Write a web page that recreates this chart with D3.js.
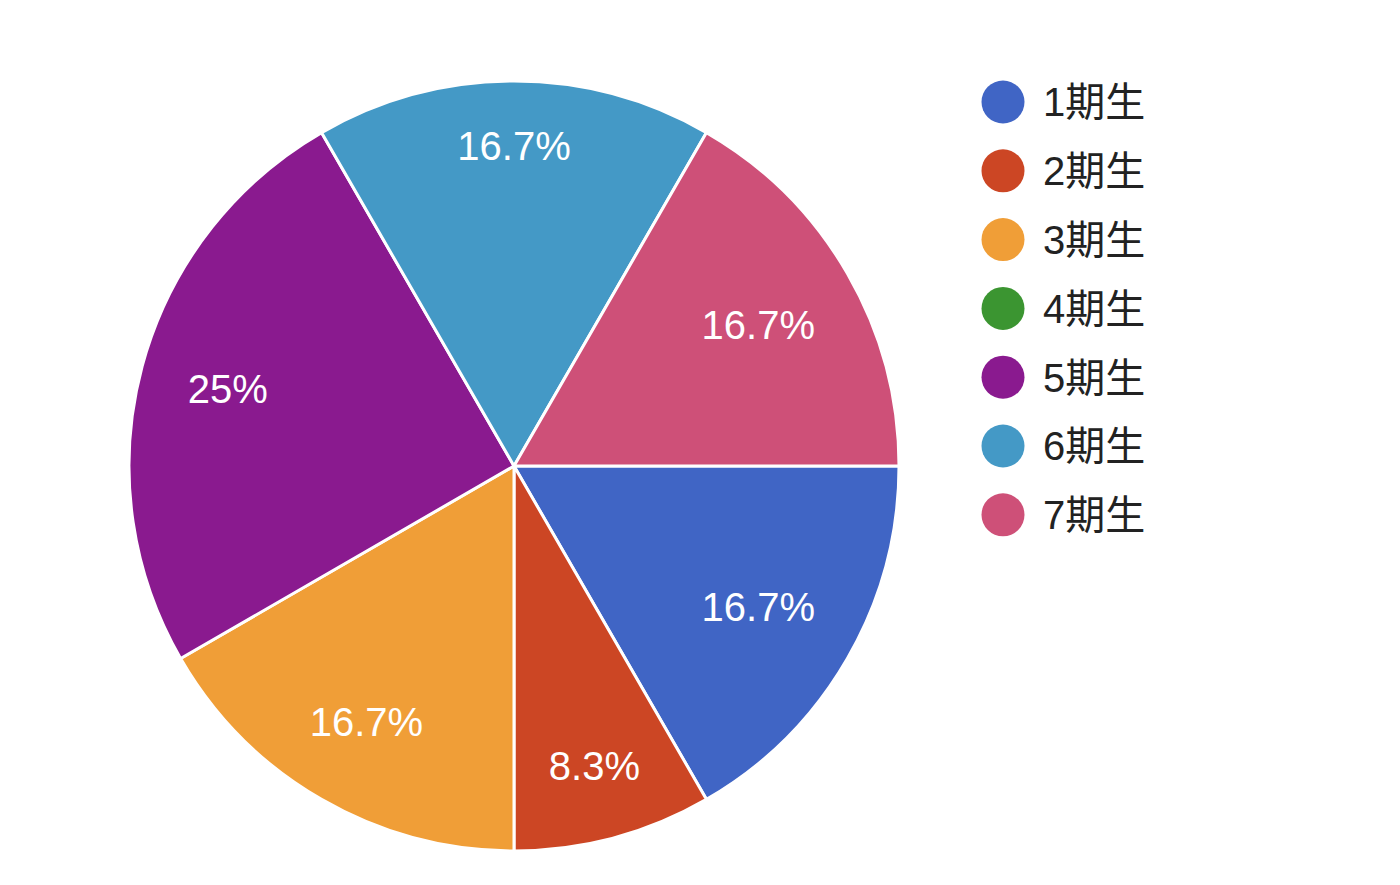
<!DOCTYPE html>
<html>
<head>
<meta charset="utf-8">
<script src="https://cdn.jsdelivr.net/npm/d3@7"></script>
<style>
  body { margin: 0; background: #fff; }
  svg { display: block; }
</style>
</head>
<body>
<svg></svg>
<script>
const width = 1400;
const height = 885;

// data
const categories = ['1期生', '2期生', '3期生', '4期生', '5期生', '6期生', '7期生'];
const counts = [2, 1, 2, 0, 3, 2, 2];
const colors = ['#4065c5', '#cc4624', '#f09e37', '#3b9531', '#8a1a8f', '#4499c6', '#ce5078'];

const cx = 514, cy = 466;
const radius = 385;

const svg = d3.select('svg')
    .attr('width', width)
    .attr('height', height);

const color = d3.scaleOrdinal().domain(categories).range(colors);

const data = categories.map((c, i) => ({ category: c, value: counts[i] }));
const total = d3.sum(data, d => d.value);

// slices start at 3 o'clock and go clockwise
const pie = d3.pie()
    .value(d => d.value)
    .sort(null)
    .startAngle(Math.PI / 2)
    .endAngle(Math.PI / 2 + 2 * Math.PI);

const arc = d3.arc()
    .innerRadius(0)
    .outerRadius(radius);

const g = svg.append('g')
    .attr('transform', `translate(${cx}, ${cy})`);

const arcs = g.selectAll('.arc')
    .data(pie(data).filter(d => d.data.value > 0))
    .enter().append('g')
    .attr('class', 'arc');

arcs.append('path')
    .attr('d', arc)
    .attr('fill', d => color(d.data.category))
    .attr('stroke', '#fff')
    .attr('stroke-width', 3);

const fmt = v => {
    const p = Math.round(v / total * 1000) / 10;
    return (p % 1 === 0 ? p.toFixed(0) : p.toFixed(1)) + '%';
};

const labels = arcs.append('text')
    .attr('dy', '.35em')
    .attr('text-anchor', 'middle')
    .style('font-family', '"Liberation Sans", Arial, sans-serif')
    .style('font-size', '40px')
    .style('fill', '#fff')
    .text(d => fmt(d.data.value));

// push each label out along its mid angle until the far corner of its box
// reaches 0.88 of the radius
const reach = radius * 0.88;
const capH = 29;
labels.attr('transform', function(d) {
    const w = this.getComputedTextLength();
    const a = (d.startAngle + d.endAngle) / 2;
    const sx = Math.sin(a), sy = -Math.cos(a);
    let lo = 0, hi = radius;
    for (let k = 0; k < 40; k++) {
        const r = (lo + hi) / 2;
        const fx = Math.abs(r * sx) + w / 2;
        const fy = Math.abs(r * sy) + capH / 2;
        if (Math.hypot(fx, fy) > reach) hi = r; else lo = r;
    }
    return `translate(${lo * sx}, ${lo * sy})`;
});

// legend
const legend = svg.append('g')
    .attr('transform', 'translate(1003, 102)');

const items = legend.selectAll('.legend-item')
    .data(categories)
    .enter().append('g')
    .attr('class', 'legend-item')
    .attr('transform', (d, i) => `translate(0, ${i * 68.8})`);

items.append('circle')
    .attr('r', 21.5)
    .attr('fill', d => color(d));

items.append('text')
    .attr('x', 40)
    .attr('y', 0)
    .attr('dy', '.36em')
    .style('font-family', '"Liberation Sans", "Noto Sans CJK JP", sans-serif')
    .style('font-size', '40px')
    .style('fill', '#222')
    .text(d => d);
</script>
</body>
</html>
